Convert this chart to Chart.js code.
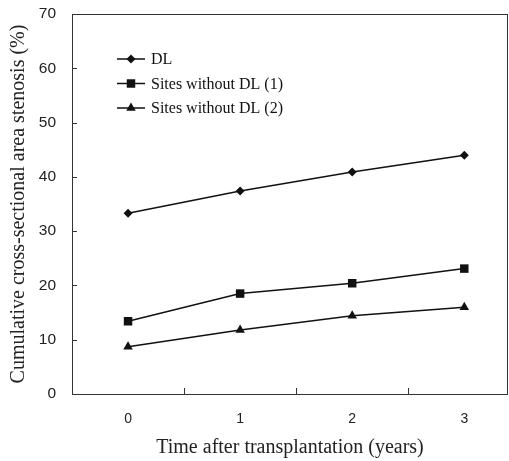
<!DOCTYPE html>
<html lang="en">
<head>
    <meta charset="UTF-8">
    <title>Cumulative stenosis</title>
    <script src="https://cdn.jsdelivr.net/npm/chart.js"></script>
    <style>
        html, body { margin: 0; padding: 0; background: #fff; overflow: hidden; }
        /* a few px wider than the window: the plot frame runs to the right edge like in the scan */
        #wrap { width: 514px; height: 461px; }
    </style>
</head>
<body>
    <div id="wrap"><canvas id="chart"></canvas></div>
    <script>
        // data
        const years = [0, 1, 2, 3];
        const dl = [33.3, 37.4, 40.9, 44.0];
        const sites1 = [13.4, 18.5, 20.4, 23.1];
        const sites2 = [8.7, 11.8, 14.4, 16.0];
        const yTicks = [0, 10, 20, 30, 40, 50, 60, 70];
        const xTickMarks = [0.5, 1.5, 2.5];

        const serif = '"Liberation Serif", "Times New Roman", serif';
        const sans = '"Liberation Sans", Arial, sans-serif';

        function pts(vals) {
            return vals.map((v, i) => ({ x: years[i], y: v }));
        }

        // frame, inward tick marks and the legend inside the plot
        const framePlugin = {
            id: 'frame',
            afterDraw(chart) {
                const c = chart.ctx;
                const a = chart.chartArea;
                const xs = chart.scales.x, ys = chart.scales.y;
                c.save();
                c.strokeStyle = '#333';
                c.lineWidth = 1;
                c.strokeRect(a.left + 0.5, a.top + 0.5, a.right - a.left - 1, a.bottom - a.top);
                c.beginPath();
                yTicks.slice(1, -1).forEach(v => {
                    const y = Math.round(ys.getPixelForValue(v)) + 0.5;
                    c.moveTo(a.left, y);
                    c.lineTo(a.left + 5, y);
                });
                xTickMarks.forEach(v => {
                    const x = Math.round(xs.getPixelForValue(v)) + 0.5;
                    c.moveTo(x, a.bottom);
                    c.lineTo(x, a.bottom - 6);
                });
                c.stroke();

                // legend
                const lx = 117, ly = 59, gap = 24.5;
                c.font = '16px ' + serif;
                c.textBaseline = 'middle';
                chart.data.datasets.forEach((ds, i) => {
                    const y = ly + i * gap;
                    c.beginPath();
                    c.strokeStyle = '#111';
                    c.lineWidth = 1.5;
                    c.moveTo(lx, y);
                    c.lineTo(lx + 28, y);
                    c.stroke();
                    c.fillStyle = '#111';
                    Chart.helpers.drawPoint(c, {
                        pointStyle: ds.pointStyle,
                        radius: ds.pointRadius,
                        rotation: 0,
                        borderWidth: 0
                    }, lx + 14, y);
                    c.fillStyle = '#111';
                    c.fillText(ds.label, lx + 34, y + 1);
                });
                c.restore();
            }
        };

        function series(label, vals, style, r) {
            return {
                label: label,
                data: pts(vals),
                borderColor: '#111',
                backgroundColor: '#111',
                borderWidth: 1.5,
                pointStyle: style,
                pointRadius: r,
                pointHoverRadius: r,
                pointBorderWidth: 0,
                pointBackgroundColor: '#111',
                tension: 0
            };
        }

        new Chart(document.getElementById('chart'), {
            type: 'line',
            data: {
                datasets: [
                    series('DL', dl, 'rectRot', 4.5),
                    series('Sites without DL (1)', sites1, 'rect', 6),
                    series('Sites without DL (2)', sites2, 'triangle', 5.5)
                ]
            },
            options: {
                responsive: true,
                maintainAspectRatio: false,
                animation: false,
                layout: { padding: { top: 14, right: 1, left: 0, bottom: 0 } },
                plugins: { legend: { display: false }, tooltip: { enabled: false } },
                scales: {
                    x: {
                        type: 'linear',
                        min: -0.5,
                        max: 3.39,
                        afterBuildTicks: s => { s.ticks = years.map(v => ({ value: v })); },
                        afterFit: s => {
                            s.height = 67;
                            s.paddingLeft = 0;
                            s.paddingRight = 0;
                        },
                        grid: { display: false, drawTicks: false },
                        border: { display: false },
                        ticks: { color: '#222', font: { family: sans, size: 14 }, padding: 17 },
                        title: {
                            display: true,
                            text: 'Time after transplantation (years)',
                            color: '#222',
                            font: { family: serif, size: 20 },
                            padding: { top: 0, bottom: 1 }
                        }
                    },
                    y: {
                        min: 0,
                        max: 70,
                        afterBuildTicks: s => { s.ticks = yTicks.map(v => ({ value: v })); },
                        afterFit: s => {
                            s.width = 72;
                            s.paddingTop = 0;
                            s.paddingBottom = 0;
                        },
                        grid: { display: false, drawTicks: false },
                        border: { display: false },
                        ticks: { color: '#222', font: { family: sans, size: 15.5 }, padding: 16 },
                        title: {
                            display: true,
                            text: 'Cumulative cross-sectional area stenosis (%)',
                            color: '#222',
                            font: { family: serif, size: 20 },
                            padding: { top: 7, bottom: 0 }
                        }
                    }
                }
            },
            plugins: [framePlugin]
        });
    </script>
</body>
</html>
